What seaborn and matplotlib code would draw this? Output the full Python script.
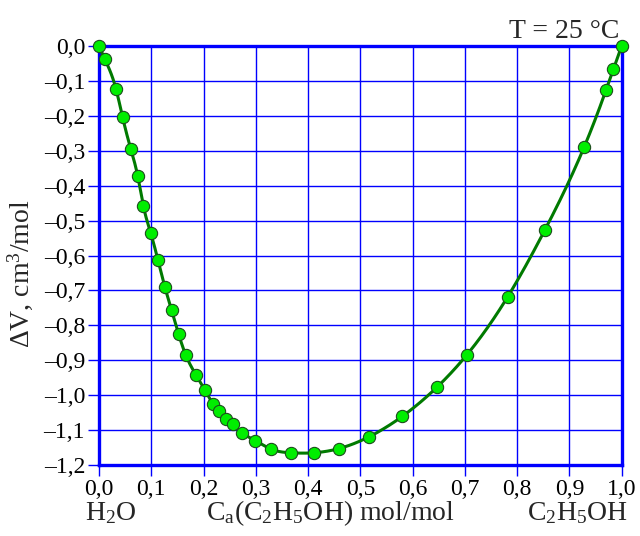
import numpy as np
import matplotlib
matplotlib.use('Agg')
import matplotlib.pyplot as plt
from matplotlib.ticker import FuncFormatter
import seaborn as sns

# measured points: mole fraction of ethanol and excess volume, cm3/mol

x_ethanol = [0.0, 0.011, 0.0325, 0.045, 0.061, 0.074, 0.085, 0.099, 0.113, 0.126,
             0.139, 0.1525, 0.166, 0.186, 0.202, 0.219, 0.230, 0.243, 0.256, 0.274,
             0.299, 0.330, 0.367, 0.411, 0.459, 0.517, 0.580, 0.646, 0.7035, 0.782,
             0.853, 0.928, 0.970, 0.984, 1.0]
dv = [0.0, -0.037, -0.123, -0.203, -0.296, -0.372, -0.459, -0.536, -0.614, -0.690,
      -0.757, -0.826, -0.885, -0.943, -0.984, -1.026, -1.046, -1.067, -1.084, -1.108,
      -1.130, -1.155, -1.165, -1.165, -1.153, -1.119, -1.061, -0.978, -0.885, -0.718,
      -0.527, -0.290, -0.126, -0.066, 0.0]

x_ticks = np.arange(0, 1.01, 0.1)
y_ticks = np.arange(-1.2, 0.01, 0.1)

sns.set_theme(style='white')
plt.rcParams['font.family'] = ['Liberation Serif', 'DejaVu Serif']
plt.rcParams['mathtext.fontset'] = 'custom'
plt.rcParams['mathtext.rm'] = 'Liberation Serif'
plt.rcParams['mathtext.default'] = 'regular'


# smooth curve through the points: natural cubic spline

def natural_spline(x, y, xs):
    x = np.asarray(x, float)
    y = np.asarray(y, float)
    n = len(x)
    h = np.diff(x)
    A = np.zeros((n, n))
    b = np.zeros(n)
    A[0, 0] = A[-1, -1] = 1
    for i in range(1, n - 1):
        A[i, i - 1] = h[i - 1]
        A[i, i] = 2 * (h[i - 1] + h[i])
        A[i, i + 1] = h[i]
        b[i] = 6 * ((y[i + 1] - y[i]) / h[i] - (y[i] - y[i - 1]) / h[i - 1])
    m = np.linalg.solve(A, b)
    idx = np.clip(np.searchsorted(x, xs) - 1, 0, n - 2)
    x0, x1 = x[idx], x[idx + 1]
    hh = x1 - x0
    t0 = x1 - xs
    t1 = xs - x0
    return (m[idx] * t0 ** 3 / (6 * hh) + m[idx + 1] * t1 ** 3 / (6 * hh)
            + (y[idx] / hh - m[idx] * hh / 6) * t0 + (y[idx + 1] / hh - m[idx + 1] * hh / 6) * t1)


xs = np.linspace(0, 1, 600)
ys = natural_spline(x_ethanol, dv, xs)

fig = plt.figure(figsize=(6.4, 5.36), dpi=100)
ax = fig.add_axes([99 / 640, 1 - 465 / 536, (621.7 - 99) / 640, (465 - 46) / 536])

sns.lineplot(x=xs, y=ys, color='#007a00', linewidth=2.2, ax=ax, zorder=3)
sns.scatterplot(x=x_ethanol, y=dv, color='#00ee00', edgecolor='#1d4d1d', linewidth=0.8,
                s=78, ax=ax, zorder=4, clip_on=False)

ax.set_xlim(0, 1)
ax.set_ylim(-1.2, 0)
ax.set_xticks(x_ticks)
ax.set_yticks(y_ticks)


def fmt(v, pos):
    s = f"{v:.1f}".replace('.', ',')
    if s == '-0,0':
        s = '0,0'
    return s.replace('-', '\u2013')


ax.xaxis.set_major_formatter(FuncFormatter(fmt))
ax.yaxis.set_major_formatter(FuncFormatter(fmt))
ax.grid(True, color='#0000ff', linewidth=1.0)
ax.set_axisbelow(True)
for sp in ax.spines.values():
    sp.set_color('#0000ff')
    sp.set_linewidth(2.4)
    sp.set_zorder(2.5)
ax.tick_params(direction='out', length=8, width=1, color='#0000ff', labelsize=17,
               pad=2, bottom=True, left=True, labelcolor='black')

ax.set_ylabel('\u0394V, cm$^3$/mol', fontsize=20)
ax.yaxis.set_label_coords(-0.122, 0.457)

fig.text(85 / 640, 1 - 520 / 536, 'H$_2$O', fontsize=20, ha='left', va='baseline')
fig.text(330 / 640, 1 - 520 / 536, 'C$_a$(C$_2$H$_5$OH) mol/mol', fontsize=20,
         ha='center', va='baseline')
fig.text(628 / 640, 1 - 520 / 536, 'C$_2$H$_5$OH', fontsize=20, ha='right', va='baseline')
fig.text(619 / 640, 1 - 38 / 536, 'T = 25 \u00b0C', fontsize=20, ha='right', va='baseline')

fig.savefig('out.png', dpi=100)
